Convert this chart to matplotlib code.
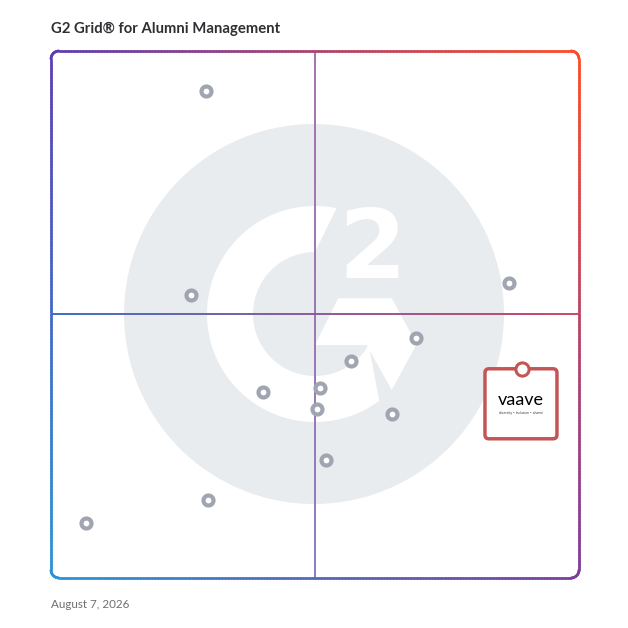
import numpy as np
import matplotlib
matplotlib.use("Agg")
import matplotlib.pyplot as plt
from matplotlib.collections import LineCollection
from matplotlib.patches import Circle, Polygon, FancyBboxPatch
from matplotlib.transforms import Affine2D, ScaledTranslation
import matplotlib.colors as mcolors

# ---------------- data ----------------
title = "G2 Grid\u00ae for Alumni Management"
date_label = "August 7, 2026"
# market presence (x) and satisfaction (y), 0..100
other_x = [29.4, 26.5, 86.7, 69.1, 56.8, 50.9, 40.2, 50.4, 64.6, 52.1, 29.7, 6.6]
other_y = [92.4, 53.7, 56.0, 45.5, 41.2, 36.1, 35.3, 32.1, 31.1, 22.4, 14.8, 10.4]
featured_name = "vaave"
featured_tagline = "diversity \u2022 inclusion \u2022 alumni"
featured_x = 89.2
featured_y = 39.7

W = H = 628
fig = plt.figure(figsize=(W / 100, H / 100), dpi=100)
fig.patch.set_facecolor("white")

# pixel transform (origin top-left)
pix = Affine2D().scale(1 / W, -1 / H).translate(0, 1) + fig.transFigure

X0, X1, Y0, Y1 = 51, 579, 51, 578
ax = fig.add_axes([X0 / W, (H - Y1) / H, (X1 - X0) / W, (Y1 - Y0) / H])
ax.set_xlim(0, 100)
ax.set_ylim(0, 100)
ax.axis("off")

# ---------------- background G2 logo ----------------
bg = "#e9ecef"
ax.add_patch(Circle((314, 314), 190, transform=pix, facecolor=bg, edgecolor="none", zorder=0))

cx, cy = 315, 314
def pol(r, a):
    a = np.deg2rad(a)
    return (cx + r * np.cos(a), cy - r * np.sin(a))

outer = [pol(108, a) for a in np.linspace(78.5, 306.5, 200)]
inner = [pol(62, a) for a in np.linspace(330, 90, 200)]
ax.add_patch(Polygon(outer + inner, closed=True, transform=pix, facecolor="white",
                     edgecolor="none", zorder=0.5))
chev = [(338.3, 298.3), (391.7, 298.3), (416.7, 344), (391.7, 390), (366.7, 345), (315, 345)]
ax.add_patch(Polygon(chev, closed=True, transform=pix, facecolor="white",
                     edgecolor="none", zorder=0.5))
fig.text(372.5 / W, 1 - 252 / H, "2", fontsize=70, fontweight="bold", color="white",
         ha="center", va="center", family="DejaVu Sans", zorder=0.6)

# ---------------- gradient border ----------------
TL = np.array(mcolors.to_rgb("#5a3db4"))
TR = np.array(mcolors.to_rgb("#ff4b25"))
BL = np.array(mcolors.to_rgb("#2a95d8"))
BR = np.array(mcolors.to_rgb("#7c3c9f"))

def bilin(px, py):
    u = (px - X0) / (X1 - X0)
    v = (py - Y0) / (Y1 - Y0)
    top = TL * (1 - u) + TR * u
    bot = BL * (1 - u) + BR * u
    return np.clip(top * (1 - v) + bot * v, 0, 1)

def rounded_rect_pts(x0, y0, x1, y1, r):
    pts = []
    corners = [((x1 - r, y0 + r), 90, 0), ((x1 - r, y1 - r), 0, -90),
               ((x0 + r, y1 - r), -90, -180), ((x0 + r, y0 + r), 180, 90)]
    for (ccx, ccy), a0, a1 in corners:
        for a in np.linspace(a0, a1, 20):
            t = np.deg2rad(a)
            pts.append((ccx + r * np.cos(t), ccy - r * np.sin(t)))
    pts.append(pts[0])
    dense = []
    for p, q in zip(pts[:-1], pts[1:]):
        d = np.hypot(q[0] - p[0], q[1] - p[1])
        k = max(1, int(d / 3))
        for i in range(k):
            dense.append((p[0] + (q[0] - p[0]) * i / k, p[1] + (q[1] - p[1]) * i / k))
    dense.append(dense[0])
    return np.array(dense)

pts = rounded_rect_pts(X0, Y0, X1, Y1, 8)
segs = [[pts[i], pts[i + 1]] for i in range(len(pts) - 1)]
cols = [bilin((s[0][0] + s[1][0]) / 2, (s[0][1] + s[1][1]) / 2) for s in segs]
ax.add_collection(LineCollection(segs, colors=cols, linewidths=1.9, transform=pix,
                                 capstyle="round", zorder=3, clip_on=False))

# midlines
def grad_line(p0, p1, stops, lw):
    n = 200
    xs = np.linspace(p0[0], p1[0], n + 1)
    ys = np.linspace(p0[1], p1[1], n + 1)
    sg = [[(xs[i], ys[i]), (xs[i + 1], ys[i + 1])] for i in range(n)]
    cmap = mcolors.LinearSegmentedColormap.from_list("g", stops)
    cl = [cmap((i + 0.5) / n) for i in range(n)]
    ax.add_collection(LineCollection(sg, colors=cl, linewidths=lw, transform=pix,
                                     capstyle="butt", zorder=2, clip_on=False))

grad_line((315, Y0), (315, Y1), ["#a673ab", "#9a76b2", "#8a7bc4"], 1.4)
grad_line((X0, 314), (X1, 314), ["#3a6fc2", "#8a5a9c", "#cf4560"], 1.4)

# ---------------- points ----------------
ax.plot(other_x, other_y, linestyle="none", marker="o", markersize=7.2,
        markerfacecolor="white", markeredgecolor="#a1a5b1", markeredgewidth=3.0,
        zorder=5, clip_on=False)

# featured product box
trans = fig.dpi_scale_trans + ScaledTranslation(featured_x, featured_y, ax.transData)
red = "#c45555"
box = FancyBboxPatch((-0.37, -0.70), 0.72, 0.70, boxstyle="round,pad=0,rounding_size=0.04",
                     transform=trans, facecolor="white", edgecolor=red, linewidth=2.5, zorder=6)
ax.add_patch(box)
ax.plot([featured_x], [featured_y], linestyle="none", marker="o", markersize=9.5,
        markerfacecolor="white", markeredgecolor=red, markeredgewidth=2.2, zorder=7, clip_on=False)
ax.text(-0.01, -0.31, featured_name, transform=trans, ha="center", va="center",
        fontsize=13, family="Lato", fontweight="normal", color="#000000", zorder=8)
ax.text(-0.01, -0.445, featured_tagline, transform=trans,
        ha="center", va="center", fontsize=2.2, color="#333333", zorder=8)

# ---------------- texts ----------------
fig.text(51 / W, 1 - 29 / H, title, ha="left", va="center", fontsize=10.75,
         fontweight="bold", family="Lato", color="#2f2f33")
fig.text(51 / W, 1 - 604 / H, date_label, ha="left", va="center", fontsize=8.4,
         family="Lato", color="#6f6f73")

fig.savefig("out.png", dpi=100, facecolor="white")
